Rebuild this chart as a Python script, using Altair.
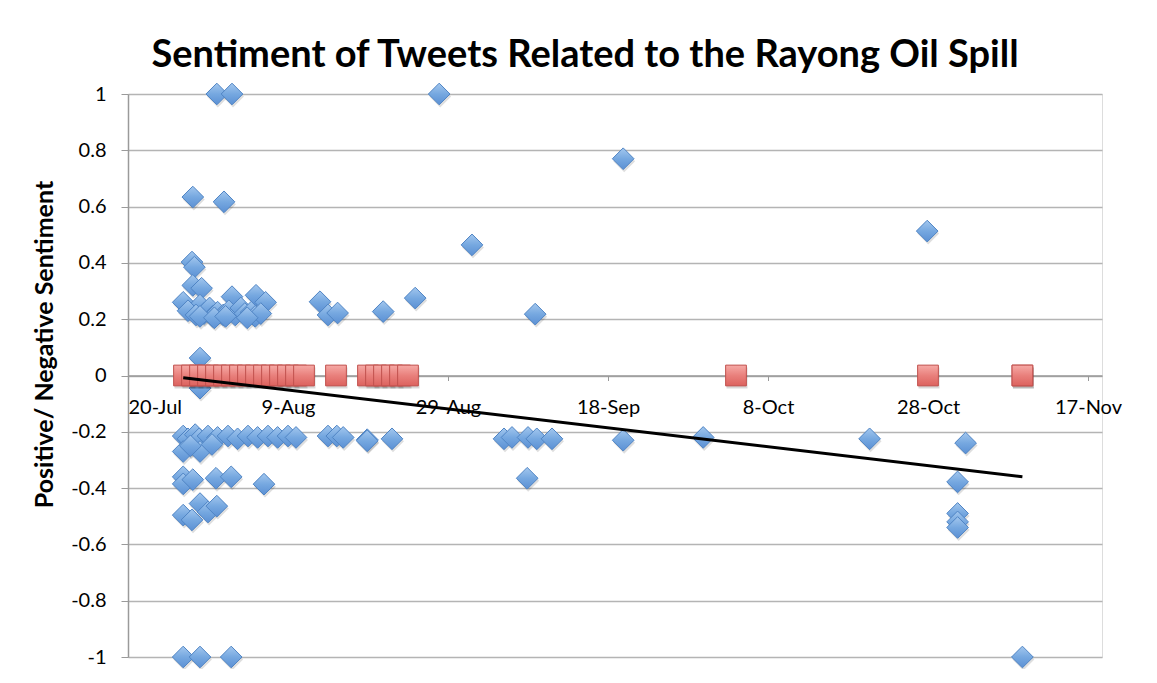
import altair as alt
import pandas as pd

# ---- data (days after 20-Jul-2013, sentiment) ----
blue_days = [
    11.1, 13.0, 38.9, 61.9, 43.0, 99.9, 8.1, 12.0, 8.0, 8.3,
    8.1, 9.2, 6.9, 9.0, 13.0, 16.0, 17.2, 24.0, 25.0, 26.2,
    31.9, 35.9, 50.9,
    7.5, 8.5, 9.5, 10.2, 10.6, 11.2, 11.9, 12.6, 13.4, 14.1,
    14.6, 15.4, 15.9, 16.6, 9.0, 10.8, 12.2, 14.9,
    9.0, 9.0,
    6.9, 7.5, 8.4, 8.9, 10.0, 11.2, 12.5, 13.7, 15.0, 16.2,
    17.5, 18.7, 20.0, 21.0, 25.0, 26.1, 26.9, 29.9, 29.9, 33.0,
    47.0, 48.0, 50.0, 51.1, 53.0, 61.9, 71.9, 92.7, 104.7,
    6.9, 9.0, 7.8, 10.5,
    6.9, 6.9, 8.1, 11.0, 12.9, 17.0, 49.9,
    6.9, 8.0, 9.0, 10.0, 11.1,
    103.7, 103.7, 103.7, 103.7,
    6.9, 9.0, 12.9, 111.8,
]
blue_vals = [
    1.0, 1.0, 1.0, 0.77, 0.464, 0.513, 0.634, 0.617, 0.403, 0.385,
    0.32, 0.31, 0.26, 0.25, 0.28, 0.285, 0.26, 0.262, 0.215, 0.222,
    0.227, 0.275, 0.218,
    0.23, 0.215, 0.22, 0.24, 0.21, 0.225, 0.215, 0.23, 0.215, 0.24,
    0.22, 0.225, 0.21, 0.22, 0.21, 0.205, 0.21, 0.205,
    0.062, -0.045,
    -0.215, -0.225, -0.21, -0.225, -0.215, -0.22, -0.215, -0.225, -0.215, -0.22,
    -0.215, -0.22, -0.215, -0.22, -0.215, -0.215, -0.22, -0.228, -0.232, -0.225,
    -0.225, -0.22, -0.22, -0.225, -0.225, -0.23, -0.22, -0.225, -0.24,
    -0.27, -0.27, -0.25, -0.245,
    -0.36, -0.385, -0.37, -0.365, -0.36, -0.386, -0.365,
    -0.496, -0.513, -0.455, -0.485, -0.464,
    -0.378, -0.49, -0.52, -0.54,
    -1.0, -1.0, -1.0, -1.0,
]
red_days = [7, 8, 9, 10, 11, 12, 13, 14, 15, 16, 17, 18, 19, 20, 21, 22,
            26, 30, 31, 32, 33, 34, 35, 76, 100, 111.8, 111.8]
red_vals = [0] * len(red_days)
trend_days = [6.9, 111.8]
trend_vals = [-0.008, -0.36]

y_ticks = [-1, -0.8, -0.6, -0.4, -0.2, 0, 0.2, 0.4, 0.6, 0.8, 1]
x_tick_days = [0, 20, 40, 60, 80, 100, 120]

origin = pd.Timestamp("2013-07-20")


def to_dates(days):
    return [(origin + pd.Timedelta(days=d)).strftime("%Y-%m-%dT%H:%M:%S") for d in days]


blue = pd.DataFrame({"date": to_dates(blue_days), "value": blue_vals})
red = pd.DataFrame({"date": to_dates(red_days), "value": red_vals})
trend = pd.DataFrame({"date": to_dates(trend_days), "value": trend_vals})


def dt(d):
    t = origin + pd.Timedelta(days=d)
    return alt.DateTime(year=t.year, month=t.month, date=t.day, hours=t.hour, minutes=t.minute)


W, H = 974, 563
FONT = "Lato"

x_enc = alt.X(
    "date:T",
    title=None,
    scale=alt.Scale(domain=[dt(0), dt(121.75)]),
    axis=alt.Axis(
        values=[dt(d) for d in x_tick_days],
        format="%-d-%b",
        offset=-H / 2,
        grid=False,
        domainColor="#9a9a9a",
        domainWidth=1.5,
        tickColor="#9a9a9a",
        tickSize=5,
        labelPadding=17,
        labelFont=FONT,
        labelFontSize=20,
        labelColor="#000000",
        labelAngle=0,
    ),
)
y_enc = alt.Y(
    "value:Q",
    scale=alt.Scale(domain=[-1, 1], nice=False),
    axis=alt.Axis(
        values=y_ticks,
        labelExpr="datum.value < 0 ? '-' + format(-datum.value, '.1~f') : format(datum.value, '.1~f')",
        title="Positive/ Negative Sentiment",
        titleFont=FONT,
        titleFontSize=25,
        titleFontWeight="bold",
        titleColor="#000000",
        titleX=-84,
        titleY=250,
        titleAlign="center",
        titleBaseline="middle",
        titleAngle=270,
        grid=True,
        gridColor="#b4b4b4",
        gridWidth=1.5,
        domainColor="#9a9a9a",
        domainWidth=1.5,
        tickColor="#9a9a9a",
        tickSize=7,
        labelPadding=15,
        labelFont=FONT,
        labelFontSize=20,
        labelColor="#000000",
    ),
)

blue_grad = alt.LinearGradient(
    gradient="linear", x1=0, y1=0, x2=0, y2=1,
    stops=[alt.GradientStop(offset=0, color="#a3c7ee"),
           alt.GradientStop(offset=0.5, color="#76a8e0"),
           alt.GradientStop(offset=1, color="#5b90d4")],
)
red_grad = alt.LinearGradient(
    gradient="linear", x1=0, y1=0, x2=0, y2=1,
    stops=[alt.GradientStop(offset=0, color="#f6aaa6"),
           alt.GradientStop(offset=0.5, color="#e9807c"),
           alt.GradientStop(offset=1, color="#dc625e")],
)

blue_shadow = alt.Chart(blue).mark_point(
    shape="diamond", filled=True, color="#000000", opacity=0.13,
    size=480, strokeWidth=0, yOffset=2.5, xOffset=1,
).encode(x=x_enc, y=y_enc)
blue_pts = alt.Chart(blue).mark_point(
    shape="diamond", filled=True, fill=blue_grad, stroke="#4f84c4",
    strokeWidth=1, opacity=1, size=470,
).encode(x=x_enc, y=y_enc)
red_shadow = alt.Chart(red).mark_point(
    shape="square", filled=True, color="#000000", opacity=0.15,
    size=440, strokeWidth=0, yOffset=2.5, xOffset=1,
).encode(x=x_enc, y=y_enc)
red_pts = alt.Chart(red).mark_point(
    shape="square", filled=True, fill=red_grad, stroke="#c0504d",
    strokeWidth=1, opacity=1, size=430,
).encode(x=x_enc, y=y_enc)
trend_line = alt.Chart(trend).mark_line(color="#000000", strokeWidth=3).encode(x=x_enc, y=y_enc)

chart = alt.layer(blue_shadow, blue_pts, red_shadow, red_pts, trend_line).properties(
    width=W,
    height=H,
    autosize="none",
    padding={"left": 120, "top": 86, "right": 40, "bottom": 12},
    title=alt.TitleParams(
        "Sentiment of Tweets Related to the Rayong Oil Spill",
        font=FONT, fontSize=38, fontWeight="bold", color="#000000",
        anchor="middle", dx=-30, dy=51, offset=27, baseline="alphabetic",
    ),
).configure_view(stroke=None).configure(background="#ffffff")

chart.save("out.html", embed_options={"renderer": "svg", "actions": False})
